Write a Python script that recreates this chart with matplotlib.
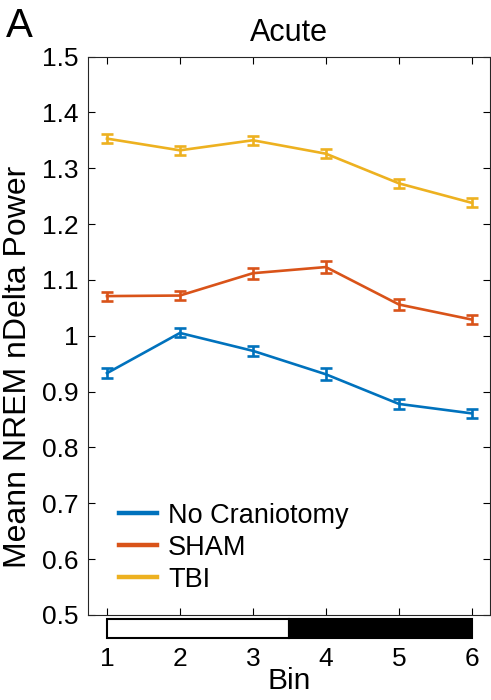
import matplotlib
matplotlib.use("Agg")
import matplotlib.pyplot as plt
from matplotlib.patches import Rectangle
from matplotlib.lines import Line2D

plt.rcParams['font.family'] = ['Liberation Sans', 'DejaVu Sans']

bins = [1, 2, 3, 4, 5, 6]
no_cran = [0.933, 1.005, 0.973, 0.931, 0.878, 0.861]
no_cran_err = [0.009, 0.008, 0.009, 0.011, 0.009, 0.008]
sham = [1.071, 1.072, 1.112, 1.123, 1.056, 1.029]
sham_err = [0.008, 0.008, 0.010, 0.011, 0.009, 0.008]
tbi = [1.353, 1.332, 1.350, 1.326, 1.273, 1.238]
tbi_err = [0.008, 0.008, 0.008, 0.008, 0.008, 0.008]
labels = ['No Craniotomy', 'SHAM', 'TBI']
colors = ['#0072BD', '#D95319', '#EDB120']
light_dark = [(1, 3.5, 'white'), (3.5, 6.0, 'black')]

fig = plt.figure(figsize=(4.91, 7.0), dpi=100)
ax = fig.add_axes([88/491, 1-615/700, (490-88)/491, (615-56.5)/700])

for y, e, c in zip([no_cran, sham, tbi], [no_cran_err, sham_err, tbi_err], colors):
    ax.errorbar(bins, y, yerr=e, color=c, lw=1.9, capsize=4.2, capthick=1.9,
                elinewidth=1.9)

ax.set_xlim(0.74, 6.25)
ax.set_ylim(0.5, 1.5)
ax.set_yticks([0.5, 0.6, 0.7, 0.8, 0.9, 1.0, 1.1, 1.2, 1.3, 1.4, 1.5])
ax.set_yticklabels(['0.5', '0.6', '0.7', '0.8', '0.9', '1', '1.1', '1.2', '1.3', '1.4', '1.5'])
ax.set_xticks(bins)
ax.tick_params(direction='in', top=True, right=True, length=5, width=0.8,
               labelsize=19, colors='black')
ax.tick_params(axis='x', pad=23)
ax.tick_params(axis='y', pad=7)
for s in ax.spines.values():
    s.set_linewidth(0.8)
    s.set_color('#262626')

for x0, x1, c in light_dark:
    r = Rectangle((x0, -0.041), x1 - x0, 0.034, transform=ax.get_xaxis_transform(),
                  facecolor=c, edgecolor='black', lw=1.5, clip_on=False)
    ax.add_patch(r)

ax.set_xlabel('Bin', fontsize=21.5, labelpad=-2.5)
ax.set_ylabel('Meann NREM nDelta Power', fontsize=23)
ax.yaxis.set_label_coords(-0.137, 0.444)
ax.set_title('Acute', fontsize=22, pad=11)
fig.text(6/491, 1-37/700, 'A', fontsize=29, va='baseline', ha='left')

handles = [Line2D([], [], color=c, lw=3.2) for c in colors]
ax.legend(handles, labels, loc='upper left', bbox_to_anchor=(0.05, 0.22), frameon=False,
          fontsize=19.5, handlelength=1.4, handletextpad=0.42, labelspacing=0.22,
          borderaxespad=0)
fig.savefig('out.png', dpi=100)
